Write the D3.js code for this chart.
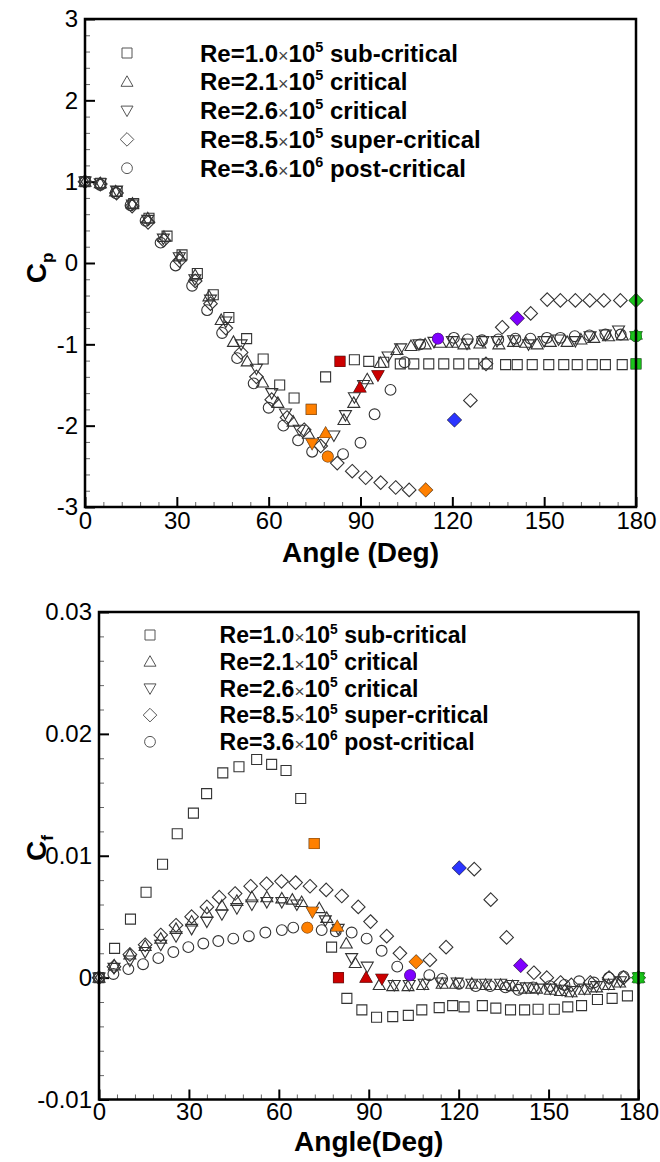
<!DOCTYPE html>
<html><head><meta charset="utf-8">
<script src="https://cdn.jsdelivr.net/npm/d3@7"></script>
<style>body{margin:0;background:#fff}svg{display:block}</style>
</head><body>
<svg id="c" width="660" height="1162"></svg>
<script>
// ---------- DATA ----------
const seriesKeys = ["square","triUp","triDown","diamond","circle"];
const legendCoef = ["1.0","2.1","2.6","8.5","3.6"];
const legendExp = ["5","5","5","5","6"];
const legendRegime = ["sub-critical","critical","critical","super-critical","post-critical"];

const xTicks = [0,30,60,90,120,150,180];
const cpTicks = [3,2,1,0,-1,-2,-3];
const cpTickLabels = ["3","2","1","0","-1","-2","-3"];
const cfTicks = [0.03,0.02,0.01,0,-0.01];
const cfTickLabels = ["0.03","0.02","0.01","0","-0.01"];

// Cp (pressure coefficient)
const cpSquareAngle = [0,5.1,10.5,15.9,20.9,26.8,31.7,36.7,41.9,47,52.8,58.2,63.6,68.3,73.9,78.6,83.3,88,92.7,97.6,103,107.4,112.3,117.2,122.1,127,131.4,137.4,141.2,146.1,151.5,156.4,160.8,165.7,170,175.5,180];
const cpSquareValue = [1.0,0.98,0.88,0.73,0.55,0.33,0.10,-0.13,-0.39,-0.67,-0.93,-1.18,-1.50,-1.66,-1.80,-1.40,-1.21,-1.19,-1.21,-1.22,-1.24,-1.24,-1.24,-1.24,-1.24,-1.24,-1.24,-1.25,-1.25,-1.25,-1.25,-1.25,-1.25,-1.25,-1.25,-1.25,-1.24];
const cpTriUpAngle = [0,5,10,15.5,20.5,25.8,31,36,40.5,44.5,48.5,53,58,63,68,73,78.6,84.6,87.8,89.8,92.2,96.5,101.9,106.5,111.1,116,120,123.8,129,135.2,140,144,147.7,152,157.5,162,166.2,171,175.5,180];
const cpTriUpValue = [1.0,0.98,0.88,0.73,0.55,0.32,0.08,-0.15,-0.41,-0.70,-0.97,-1.21,-1.47,-1.72,-1.95,-2.10,-2.09,-1.93,-1.72,-1.53,-1.43,-1.23,-1.07,-1.02,-1.0,-0.98,-0.98,-1.0,-0.99,-1.0,-0.97,-0.98,-1.0,-0.97,-0.97,-0.94,-0.92,-0.90,-0.89,-0.88];
const cpTriDownAngle = [0,5,10.3,15.5,20.5,25.6,30.8,35.9,41,46,51,56,61,65.5,70,74.2,78,81.3,85.1,88,91,95.7,99,103.1,109.1,114,120,124.8,130,134.6,140,144.9,150,154.7,160.2,165,170,174.3,180];
const cpTriDownValue = [1.0,0.98,0.89,0.72,0.53,0.30,0.07,-0.20,-0.45,-0.72,-1.0,-1.3,-1.6,-1.85,-2.05,-2.22,-2.2,-2.12,-1.87,-1.65,-1.5,-1.38,-1.15,-1.05,-1.0,-0.97,-0.96,-0.99,-0.96,-0.96,-0.95,-1.0,-0.96,-0.94,-0.96,-0.9,-0.88,-0.83,-0.9];
const cpDiamondAngle = [0,5,10.3,15.4,20.6,25.7,30.9,36,41,46,51,56,61,66,71.6,77,82.4,87.3,91.7,96.6,101.5,105.9,111.3,120.7,125.9,131,136.3,141.2,145.6,151,155.3,160.2,164.9,169.5,174.9,180];
const cpDiamondValue = [1.0,0.97,0.86,0.70,0.50,0.28,0.03,-0.22,-0.50,-0.80,-1.10,-1.40,-1.68,-1.90,-2.05,-2.25,-2.46,-2.56,-2.64,-2.70,-2.76,-2.79,-2.79,-1.93,-1.69,-1.24,-0.79,-0.68,-0.62,-0.45,-0.46,-0.46,-0.46,-0.46,-0.46,-0.46];
const cpCircleAngle = [0,5,10,14.9,19.8,24.7,29.6,35,39.9,44.8,49.7,55.1,60,64.8,69.6,74.2,79.3,84.3,90,94.6,99.8,104.4,109.5,115.3,120.5,125,129.7,135,140.6,145.5,150.9,155.3,160,164.8,170,175,180];
const cpCircleValue = [1.0,0.96,0.86,0.71,0.52,0.25,-0.03,-0.28,-0.58,-0.86,-1.17,-1.48,-1.78,-2.0,-2.18,-2.32,-2.38,-2.35,-2.21,-1.86,-1.56,-1.22,-1.0,-0.93,-0.92,-0.94,-0.95,-0.94,-0.93,-0.93,-0.92,-0.92,-0.90,-0.89,-0.88,-0.88,-0.90];

// highlighted (filled) points: [series index, angle, kind]
const cpMarks = [
  [0,73.9,"orange"],[0,83.3,"red"],[0,180,"green"],
  [1,78.6,"orange"],[1,89.8,"red"],[1,180,"green"],
  [2,74.2,"orange"],[2,95.7,"red"],[2,180,"green"],
  [3,111.3,"orange"],[3,120.7,"blue"],[3,141.2,"purple"],[3,180,"green"],
  [4,79.3,"orange"],[4,115.3,"purple"],[4,180,"green"]
];

// Cf (skin friction coefficient)
const cfSquareAngle = [0,5.2,10.5,15.7,21.2,26.1,31.5,35.9,41.3,46.7,52.6,57.6,62.4,67.3,71.8,77.6,79.9,82.7,87.7,92.6,98,103.2,107.7,113.5,118,121.8,127.9,132.4,137.3,142,146.5,151.9,156.4,161,166.3,171.2,176.3,180];
const cfSquareValue = [0,0.0024,0.0048,0.0070,0.0093,0.0118,0.0135,0.0151,0.0168,0.0173,0.0179,0.0175,0.0170,0.0147,0.0110,0.0025,0,-0.0017,-0.00265,-0.00325,-0.0032,-0.0031,-0.00265,-0.00246,-0.0023,-0.0024,-0.0023,-0.0025,-0.00265,-0.00265,-0.0026,-0.0026,-0.0024,-0.0023,-0.0018,-0.0017,-0.0015,0];
const cfTriUpAngle = [0,5.1,10.3,15.4,20.6,25.7,30.9,36,41,46,51,56,61,64.5,67.6,73.5,76,79.5,82.5,85.5,89.1,93.5,98,103.1,108,114.5,119,124.4,129,134,138,142,146,150.6,154,157.5,162,166,170,173.7,180];
const cfTriUpValue = [0,0.001,0.0019,0.0026,0.0032,0.0040,0.0046,0.0053,0.0059,0.0063,0.0066,0.0066,0.0065,0.0064,0.0062,0.0057,0.0049,0.0042,0.0028,0.0012,0,-0.0006,-0.0007,-0.0007,-0.0006,-0.0005,-0.0005,-0.0005,-0.0006,-0.0006,-0.0007,-0.0009,-0.0009,-0.0010,-0.0011,-0.0012,-0.0010,-0.0008,-0.0006,-0.0004,0];
const cfTriDownAngle = [0,5,10.3,15.4,20.6,25.7,30.9,36,41,46,51,56,61,66,71.2,75.5,79.8,84.3,89.5,94.4,98.5,103.5,108.5,114,119.5,124.4,129,134,138,142.5,146.5,150.6,154.5,158,162,166,170,174,180];
const cfTriDownValue = [0,0.0008,0.0014,0.0021,0.0027,0.0034,0.0040,0.0046,0.0052,0.0057,0.0060,0.0062,0.0062,0.0060,0.0054,0.0047,0.0040,0.0016,0.0009,-0.0001,-0.0006,-0.0006,-0.0005,-0.0004,-0.0004,-0.0005,-0.0005,-0.0005,-0.0006,-0.0008,-0.0009,-0.0009,-0.0010,-0.0011,-0.0009,-0.0007,-0.0005,-0.0003,0];
const cfDiamondAngle = [0,5,10.3,15.4,20.6,25.7,30.9,36,40.1,45.4,50.6,55.9,60.9,65.6,70.4,75.8,81,86.5,90.6,96,100.4,105.8,110.4,115.8,120.2,125.2,130.7,136,140.7,145.1,149.4,154,157.6,163.9,170.2,175,180];
const cfDiamondValue = [0,0.0009,0.0019,0.0027,0.0035,0.0043,0.0050,0.0058,0.0066,0.0069,0.0075,0.0077,0.0079,0.0078,0.0075,0.0072,0.0067,0.0058,0.0046,0.0034,0.0020,0.0013,0.00145,0.0025,0.0090,0.0089,0.0064,0.0033,0.0010,0.0004,0,-0.0004,-0.0006,-0.0004,0,0,0];
const cfCircleAngle = [0,4.8,9.8,14.7,19.8,24.8,29.8,34.8,39.8,44.8,50,55.5,61,64.8,69.5,74.3,79,84.3,89.3,94.3,99.5,103.8,110.2,114.5,120.1,125.7,130.5,135.6,139.9,144.8,150.4,155.3,160.2,165.1,170.1,175,180];
const cfCircleValue = [0,0.0003,0.0007,0.0011,0.0016,0.0021,0.0025,0.0028,0.0030,0.0032,0.0034,0.0037,0.0039,0.0041,0.0041,0.0039,0.0038,0.0037,0.0032,0.0022,0.0009,0.0002,0.0002,-0.0001,-0.0005,-0.0007,-0.0007,-0.0008,-0.0010,-0.0008,-0.0007,-0.0006,-0.0003,-0.0004,0,0.0001,0];

const cfMarks = [
  [0,71.8,"orange"],[0,79.9,"red"],[0,180,"green"],
  [1,79.5,"orange"],[1,89.1,"red"],[1,180,"green"],
  [2,71.2,"orange"],[2,94.4,"red"],[2,180,"green"],
  [3,105.8,"orange"],[3,120.2,"blue"],[3,140.7,"purple"],[3,180,"green"],
  [4,69.5,"orange"],[4,103.8,"purple"],[4,180,"green"]
];

// ---------- STYLE / LAYOUT ----------
const markColor = {orange:"#FF8000", red:"#CC0000", purple:"#7F00FF", blue:"#2B35FF", green:"#1BC41B"};
const FONT = "'Liberation Sans', Arial, Helvetica, sans-serif";
const TICKFONT = "'Liberation Sans Narrow', 'Arial Narrow', 'Liberation Sans', Arial, sans-serif";

const shapePath = {
  square: "M-5,-5H5V5H-5Z",
  triUp: "M0,-6L6,4.5L-6,4.5Z",
  triDown: "M0,6L6,-4.5L-6,-4.5Z",
  diamond: "M0,-6.8L6.8,0L0,6.8L-6.8,0Z",
  circle: d3.symbol().type(d3.symbolCircle).size(Math.PI*5.4*5.4)()
};

const svg = d3.select("#c");

function drawPanel(cfg) {
  const x = d3.scaleLinear().domain([0,180]).range([cfg.left, cfg.right]);
  const y = d3.scaleLinear().domain(cfg.yDomain).range([cfg.bottom, cfg.top]);
  const g = svg.append("g");

  // minor ticks
  const xMinor = d3.range(0, 180.001, 6).filter(v => v % 30 !== 0);
  const yMinor = d3.range(0, Math.round((cfg.yDomain[1]-cfg.yDomain[0])/cfg.yMinorStep)+1)
    .map(i => cfg.yDomain[0] + i*cfg.yMinorStep)
    .filter(v => !cfg.yTicks.some(t => Math.abs(t - v) < cfg.yMinorStep/10));

  const gxMinor = g.append("g").attr("transform", `translate(0,${cfg.bottom})`)
    .call(d3.axisBottom(x).tickValues(xMinor).tickSize(-5).tickFormat(""));
  const gyMinor = g.append("g").attr("transform", `translate(${cfg.left},0)`)
    .call(d3.axisLeft(y).tickValues(yMinor).tickSize(-5).tickFormat(""));
  [gxMinor, gyMinor].forEach(a => { a.select(".domain").remove(); a.selectAll("line").attr("stroke","#666").attr("stroke-width",1); });

  const gx = g.append("g").attr("transform", `translate(0,${cfg.bottom})`)
    .call(d3.axisBottom(x).tickValues(xTicks).tickSize(-10).tickPadding(cfg.xPad).tickFormat(d3.format("d")));
  const gy = g.append("g").attr("transform", `translate(${cfg.left},0)`)
    .call(d3.axisLeft(y).tickValues(cfg.yTicks).tickSize(-10).tickPadding(7)
      .tickFormat((d,i) => cfg.yTickLabels[i]));
  [gx, gy].forEach(a => {
    a.select(".domain").remove();
    a.selectAll("line").attr("stroke","#000").attr("stroke-width",2);
    a.selectAll("text").attr("fill","#000").style("font-family",TICKFONT).style("font-size","24px");
  });

  // data markers (open)
  cfg.series.forEach((s, si) => {
    const pts = s.angle.map((a,i) => ({a, v: s.value[i]}));
    g.append("g").selectAll("path").data(pts).join("path")
      .attr("d", shapePath[seriesKeys[si]])
      .attr("transform", d => `translate(${x(d.a)},${y(d.v)})`)
      .attr("fill","none").attr("stroke","#333").attr("stroke-width",1.1);
  });

  // highlighted filled markers
  const hl = cfg.marks.map(([si, a, kind]) => {
    const s = cfg.series[si];
    const idx = s.angle.indexOf(a);
    return {si, a, v: s.value[idx], kind};
  });
  g.append("g").selectAll("path").data(hl).join("path")
    .attr("d", d => shapePath[seriesKeys[d.si]])
    .attr("transform", d => `translate(${x(d.a)},${y(d.v)})`)
    .attr("fill", d => markColor[d.kind]).attr("stroke", d => d3.color(markColor[d.kind]).darker(0.6)).attr("stroke-width",0.6);

  // frame
  g.append("rect").attr("x",cfg.left).attr("y",cfg.top)
    .attr("width",cfg.right-cfg.left).attr("height",cfg.bottom-cfg.top)
    .attr("fill","none").attr("stroke","#000").attr("stroke-width",2.5);

  // legend
  const lg = g.append("g");
  seriesKeys.forEach((k,i) => {
    const yy = cfg.legY0 + i*cfg.legDy;
    lg.append("path").attr("d", shapePath[k]).attr("transform",`translate(${cfg.legSymX},${yy})`)
      .attr("fill","none").attr("stroke","#555").attr("stroke-width",1);
    const fs = cfg.legFs;
    const t = lg.append("text").attr("x", cfg.legTextX).attr("y", yy).attr("dy","0.36em")
      .style("font-family",FONT).style("font-weight","bold").style("font-size",fs+"px").attr("fill","#000");
    t.append("tspan").text("Re=" + legendCoef[i]);
    t.append("tspan").text("×").style("font-weight","normal").style("font-size",(fs*0.75)+"px").attr("fill","#444");
    t.append("tspan").text("10");
    t.append("tspan").text(legendExp[i]).attr("dy", -fs*0.42).style("font-size",(fs*0.6)+"px");
    t.append("tspan").text(" " + legendRegime[i]).attr("dy", fs*0.42);
  });

  // axis titles
  g.append("text").attr("x",(cfg.left+cfg.right)/2).attr("y",cfg.xTitleY).attr("text-anchor","middle")
    .style("font-family",FONT).style("font-weight","bold").style("font-size","28px").text(cfg.xTitle);
  const yt = g.append("text").attr("transform",`translate(${cfg.yTitleX},${cfg.yTitleY}) rotate(-90)`)
    .attr("text-anchor","middle").style("font-family",FONT).style("font-weight","bold").style("font-size","28px");
  yt.append("tspan").text("C");
  yt.append("tspan").text(cfg.ySub).attr("dy",7).style("font-size","17px");
}

drawPanel({
  left:85, right:636, top:19, bottom:507, xPad:5,
  yDomain:[-3,3], yTicks:cpTicks, yTickLabels:cpTickLabels, yMinorStep:0.2,
  series:[
    {angle:cpSquareAngle, value:cpSquareValue},
    {angle:cpTriUpAngle, value:cpTriUpValue},
    {angle:cpTriDownAngle, value:cpTriDownValue},
    {angle:cpDiamondAngle, value:cpDiamondValue},
    {angle:cpCircleAngle, value:cpCircleValue}
  ],
  marks: cpMarks,
  legSymX:127, legTextX:200, legY0:53, legDy:28.8, legFs:24,
  xTitle:"Angle (Deg)", xTitleY:562, yTitleX:46, yTitleY:268, ySub:"p"
});

drawPanel({
  left:99, right:638.5, top:612, bottom:1099.5, xPad:3,
  yDomain:[-0.01,0.03], yTicks:cfTicks, yTickLabels:cfTickLabels, yMinorStep:0.002,
  series:[
    {angle:cfSquareAngle, value:cfSquareValue},
    {angle:cfTriUpAngle, value:cfTriUpValue},
    {angle:cfTriDownAngle, value:cfTriDownValue},
    {angle:cfDiamondAngle, value:cfDiamondValue},
    {angle:cfCircleAngle, value:cfCircleValue}
  ],
  marks: cfMarks,
  legSymX:150, legTextX:219.6, legY0:635, legDy:26.7, legFs:23,
  xTitle:"Angle(Deg)", xTitleY:1151, yTitleX:46, yTitleY:848, ySub:"f"
});
</script>
</body></html>
